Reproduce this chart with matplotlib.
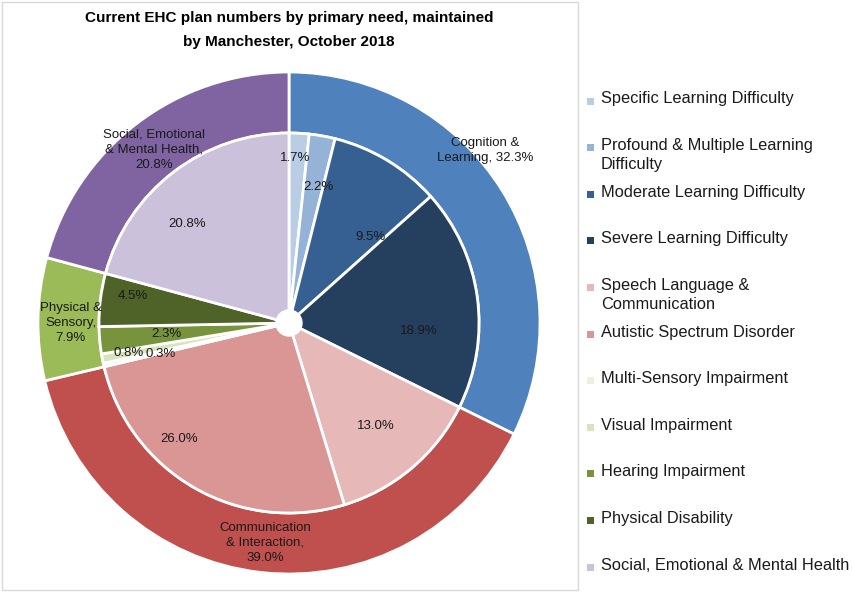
import matplotlib
matplotlib.use("Agg")
import matplotlib.pyplot as plt
from matplotlib.patches import Rectangle, Circle

plt.rcParams["font.family"] = ["Liberation Sans", "DejaVu Sans"]

# outer ring: need groups
groups = ["Cognition &\nLearning, 32.3%", "Communication\n& Interaction,\n39.0%",
          "Physical &\nSensory,\n7.9%", "Social, Emotional\n& Mental Health,\n20.8%"]
group_values = [32.3, 39.0, 7.9, 20.8]
group_colors = ["#4F81BD", "#C0504D", "#9BBB59", "#8064A2"]

# inner pie: primary need
needs = ["Specific Learning Difficulty", "Profound & Multiple Learning\nDifficulty",
         "Moderate Learning Difficulty", "Severe Learning Difficulty",
         "Speech Language &\nCommunication", "Autistic Spectrum Disorder",
         "Multi-Sensory Impairment", "Visual Impairment", "Hearing Impairment",
         "Physical Disability", "Social, Emotional & Mental Health"]
need_values = [1.7, 2.2, 9.5, 18.9, 13.0, 26.0, 0.3, 0.8, 2.3, 4.5, 20.8]
need_colors = ["#B9CDE5", "#95B3D7", "#376092", "#253F5E", "#E6B9B8", "#D99694",
               "#EBF1DE", "#D7E4BD", "#77933C", "#4F6228", "#CCC1DA"]

# label positions (data coords, radius 1 = outer edge)
group_label_pos = [(0.78, 0.688), (-0.096, -0.876), (-0.87, 0.0), (-0.536, 0.69)]
need_label_pos = [(0.024, 0.656), (0.116, 0.54), (0.324, 0.344), (0.516, -0.032),
                  (0.344, -0.412), (-0.436, -0.464), (-0.51, -0.124), (-0.64, -0.12),
                  (-0.488, -0.044), (-0.624, 0.108), (-0.404, 0.396)]

W, H = 854, 594
fig = plt.figure(figsize=(W / 100, H / 100), dpi=100)

# chart frame
fig.add_artist(Rectangle((2 / W, 4 / H), 576 / W, 588 / H, transform=fig.transFigure,
                         fill=False, edgecolor="#D9D9D9", linewidth=1))

cx, cy, R = 289, 323, 251
half = 262
ax = fig.add_axes([(cx - half) / W, (H - cy - half) / H, 2 * half / W, 2 * half / H])

r_in = 190 / R
ax.pie(group_values, colors=group_colors, radius=1.0, startangle=90, counterclock=False,
       wedgeprops=dict(width=1.0 - r_in, edgecolor="white", linewidth=2))
ax.pie(need_values, colors=need_colors, radius=r_in, startangle=90, counterclock=False,
       wedgeprops=dict(width=r_in, edgecolor="white", linewidth=2))
ax.add_patch(Circle((0, 0), 13 / R, facecolor="white", edgecolor="white", zorder=5))
ax.set_xlim(-half / R, half / R)
ax.set_ylim(-half / R, half / R)
ax.set_aspect("equal")
ax.set_axis_off()

for text, (x, y) in zip(groups, group_label_pos):
    ax.text(x, y, text, ha="center", va="center", fontsize=9.5, color="#1A1A1A",
            linespacing=1.35, zorder=6)
for v, (x, y) in zip(need_values, need_label_pos):
    ax.text(x, y, f"{v:.1f}%", ha="center", va="center", fontsize=9.5, color="#1A1A1A", zorder=6)

fig.text(cx / W, 1 - 30 / H, "Current EHC plan numbers by primary need, maintained\nby Manchester, October 2018",
         ha="center", va="center", fontsize=11, fontweight="bold", linespacing=1.9)

# legend drawn by hand, Excel style uniform spacing
y0, step = 101, 46.6
for i, (name, color) in enumerate(zip(needs, need_colors)):
    y = y0 + i * step
    fig.add_artist(Rectangle((587 / W, 1 - (y + 3.5) / H), 7 / W, 7 / H,
                             transform=fig.transFigure, facecolor=color, edgecolor="none"))
    fig.text(601 / W, 1 - (y - 9.5) / H, name, ha="left", va="top", fontsize=11.8,
             color="#1A1A1A", linespacing=1.35)

fig.savefig("out.png", dpi=100)
